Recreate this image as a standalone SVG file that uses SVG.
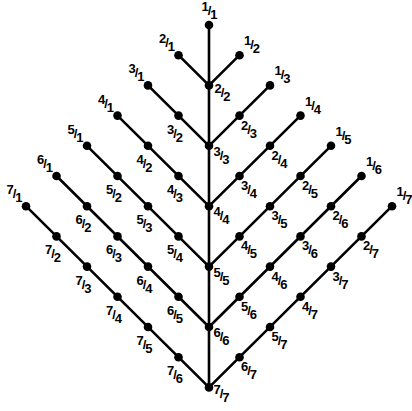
<svg xmlns="http://www.w3.org/2000/svg" width="412" height="411" viewBox="0 0 412 411">
<style>
.c line{stroke:#000;stroke-width:2.6;stroke-linecap:round}
circle{fill:#000}
text{font-family:"Liberation Sans",Arial,sans-serif;font-weight:bold;font-size:13px;fill:#000;text-anchor:middle;letter-spacing:-1px}
</style>
<rect width="412" height="411" fill="#fff"/>
<g id="connectors" class="c">
<line x1="209" y1="25" x2="209" y2="387.4"/>
<line x1="209" y1="85.4" x2="178.5" y2="55.2"/>
<line x1="209" y1="145.8" x2="148" y2="85.4"/>
<line x1="209" y1="206.2" x2="117.5" y2="115.6"/>
<line x1="209" y1="266.6" x2="87" y2="145.8"/>
<line x1="209" y1="327" x2="56.5" y2="176"/>
<line x1="209" y1="387.4" x2="26" y2="206.2"/>
<line x1="209" y1="85.4" x2="239.5" y2="55.2"/>
<line x1="209" y1="145.8" x2="270" y2="85.4"/>
<line x1="209" y1="206.2" x2="300.5" y2="115.6"/>
<line x1="209" y1="266.6" x2="331" y2="145.8"/>
<line x1="209" y1="327" x2="361.5" y2="176"/>
<line x1="209" y1="387.4" x2="392" y2="206.2"/>
</g>
<!-- spine -->
<g id="n1_1"><circle cx="209" cy="25" r="4.3"/><text x="209" y="15"><tspan dy="-4">1</tspan><tspan dy="4">/</tspan><tspan dy="4">1</tspan></text></g>
<g id="n2_2"><circle cx="209" cy="85.4" r="4.3"/><text x="222" y="97"><tspan dy="-4">2</tspan><tspan dy="4">/</tspan><tspan dy="4">2</tspan></text></g>
<g id="n3_3"><circle cx="209" cy="145.8" r="4.3"/><text x="221" y="160"><tspan dy="-4">3</tspan><tspan dy="4">/</tspan><tspan dy="4">3</tspan></text></g>
<g id="n4_4"><circle cx="209" cy="206.2" r="4.3"/><text x="221" y="220.4"><tspan dy="-4">4</tspan><tspan dy="4">/</tspan><tspan dy="4">4</tspan></text></g>
<g id="n5_5"><circle cx="209" cy="266.6" r="4.3"/><text x="221" y="281"><tspan dy="-4">5</tspan><tspan dy="4">/</tspan><tspan dy="4">5</tspan></text></g>
<g id="n6_6"><circle cx="209" cy="327" r="4.3"/><text x="221" y="341.2"><tspan dy="-4">6</tspan><tspan dy="4">/</tspan><tspan dy="4">6</tspan></text></g>
<g id="n7_7"><circle cx="209" cy="387.4" r="4.3"/><text x="221" y="398"><tspan dy="-4">7</tspan><tspan dy="4">/</tspan><tspan dy="4">7</tspan></text></g>
<!-- left endpoints -->
<g id="n2_1"><circle cx="178.5" cy="55.2" r="4.3"/><text x="166.5" y="47.2"><tspan dy="-4">2</tspan><tspan dy="4">/</tspan><tspan dy="4">1</tspan></text></g>
<g id="n3_1"><circle cx="148" cy="85.4" r="4.3"/><text x="136" y="77.4"><tspan dy="-4">3</tspan><tspan dy="4">/</tspan><tspan dy="4">1</tspan></text></g>
<g id="n4_1"><circle cx="117.5" cy="115.6" r="4.3"/><text x="105.5" y="107.6"><tspan dy="-4">4</tspan><tspan dy="4">/</tspan><tspan dy="4">1</tspan></text></g>
<g id="n5_1"><circle cx="87" cy="145.8" r="4.3"/><text x="75" y="137.8"><tspan dy="-4">5</tspan><tspan dy="4">/</tspan><tspan dy="4">1</tspan></text></g>
<g id="n6_1"><circle cx="56.5" cy="176" r="4.3"/><text x="44.5" y="168"><tspan dy="-4">6</tspan><tspan dy="4">/</tspan><tspan dy="4">1</tspan></text></g>
<g id="n7_1"><circle cx="26" cy="206.2" r="4.3"/><text x="14" y="198.2"><tspan dy="-4">7</tspan><tspan dy="4">/</tspan><tspan dy="4">1</tspan></text></g>
<!-- right endpoints -->
<g id="n1_2"><circle cx="239.5" cy="55.2" r="4.3"/><text x="251.5" y="49.2"><tspan dy="-4">1</tspan><tspan dy="4">/</tspan><tspan dy="4">2</tspan></text></g>
<g id="n1_3"><circle cx="270" cy="85.4" r="4.3"/><text x="282" y="79.4"><tspan dy="-4">1</tspan><tspan dy="4">/</tspan><tspan dy="4">3</tspan></text></g>
<g id="n1_4"><circle cx="300.5" cy="115.6" r="4.3"/><text x="312.5" y="109.6"><tspan dy="-4">1</tspan><tspan dy="4">/</tspan><tspan dy="4">4</tspan></text></g>
<g id="n1_5"><circle cx="331" cy="145.8" r="4.3"/><text x="343" y="139.8"><tspan dy="-4">1</tspan><tspan dy="4">/</tspan><tspan dy="4">5</tspan></text></g>
<g id="n1_6"><circle cx="361.5" cy="176" r="4.3"/><text x="373.5" y="170"><tspan dy="-4">1</tspan><tspan dy="4">/</tspan><tspan dy="4">6</tspan></text></g>
<g id="n1_7"><circle cx="392" cy="206.2" r="4.3"/><text x="404" y="200.2"><tspan dy="-4">1</tspan><tspan dy="4">/</tspan><tspan dy="4">7</tspan></text></g>
<!-- left interior -->
<g id="n3_2"><circle cx="178.5" cy="115.6" r="4.3"/><text x="174.5" y="137.6"><tspan dy="-4">3</tspan><tspan dy="4">/</tspan><tspan dy="4">2</tspan></text></g>
<g id="n4_2"><circle cx="148" cy="145.8" r="4.3"/><text x="144" y="167.8"><tspan dy="-4">4</tspan><tspan dy="4">/</tspan><tspan dy="4">2</tspan></text></g>
<g id="n4_3"><circle cx="178.5" cy="176" r="4.3"/><text x="174.5" y="198"><tspan dy="-4">4</tspan><tspan dy="4">/</tspan><tspan dy="4">3</tspan></text></g>
<g id="n5_2"><circle cx="117.5" cy="176" r="4.3"/><text x="113.5" y="198"><tspan dy="-4">5</tspan><tspan dy="4">/</tspan><tspan dy="4">2</tspan></text></g>
<g id="n5_3"><circle cx="148" cy="206.2" r="4.3"/><text x="144" y="228.2"><tspan dy="-4">5</tspan><tspan dy="4">/</tspan><tspan dy="4">3</tspan></text></g>
<g id="n5_4"><circle cx="178.5" cy="236.4" r="4.3"/><text x="174.5" y="258.4"><tspan dy="-4">5</tspan><tspan dy="4">/</tspan><tspan dy="4">4</tspan></text></g>
<g id="n6_2"><circle cx="87" cy="206.2" r="4.3"/><text x="83" y="228.2"><tspan dy="-4">6</tspan><tspan dy="4">/</tspan><tspan dy="4">2</tspan></text></g>
<g id="n6_3"><circle cx="117.5" cy="236.4" r="4.3"/><text x="113.5" y="258.4"><tspan dy="-4">6</tspan><tspan dy="4">/</tspan><tspan dy="4">3</tspan></text></g>
<g id="n6_4"><circle cx="148" cy="266.6" r="4.3"/><text x="144" y="288.6"><tspan dy="-4">6</tspan><tspan dy="4">/</tspan><tspan dy="4">4</tspan></text></g>
<g id="n6_5"><circle cx="178.5" cy="296.8" r="4.3"/><text x="174.5" y="318.8"><tspan dy="-4">6</tspan><tspan dy="4">/</tspan><tspan dy="4">5</tspan></text></g>
<g id="n7_2"><circle cx="56.5" cy="236.4" r="4.3"/><text x="52.5" y="258.4"><tspan dy="-4">7</tspan><tspan dy="4">/</tspan><tspan dy="4">2</tspan></text></g>
<g id="n7_3"><circle cx="87" cy="266.6" r="4.3"/><text x="83" y="288.6"><tspan dy="-4">7</tspan><tspan dy="4">/</tspan><tspan dy="4">3</tspan></text></g>
<g id="n7_4"><circle cx="117.5" cy="296.8" r="4.3"/><text x="113.5" y="318.8"><tspan dy="-4">7</tspan><tspan dy="4">/</tspan><tspan dy="4">4</tspan></text></g>
<g id="n7_5"><circle cx="148" cy="327" r="4.3"/><text x="144" y="349"><tspan dy="-4">7</tspan><tspan dy="4">/</tspan><tspan dy="4">5</tspan></text></g>
<g id="n7_6"><circle cx="178.5" cy="357.2" r="4.3"/><text x="174.5" y="379.2"><tspan dy="-4">7</tspan><tspan dy="4">/</tspan><tspan dy="4">6</tspan></text></g>
<!-- right interior -->
<g id="n2_3"><circle cx="239.5" cy="115.6" r="4.3"/><text x="248.5" y="133.6"><tspan dy="-4">2</tspan><tspan dy="4">/</tspan><tspan dy="4">3</tspan></text></g>
<g id="n2_4"><circle cx="270" cy="145.8" r="4.3"/><text x="279" y="163.8"><tspan dy="-4">2</tspan><tspan dy="4">/</tspan><tspan dy="4">4</tspan></text></g>
<g id="n3_4"><circle cx="239.5" cy="176" r="4.3"/><text x="248.5" y="194"><tspan dy="-4">3</tspan><tspan dy="4">/</tspan><tspan dy="4">4</tspan></text></g>
<g id="n2_5"><circle cx="300.5" cy="176" r="4.3"/><text x="309.5" y="194"><tspan dy="-4">2</tspan><tspan dy="4">/</tspan><tspan dy="4">5</tspan></text></g>
<g id="n3_5"><circle cx="270" cy="206.2" r="4.3"/><text x="279" y="224.2"><tspan dy="-4">3</tspan><tspan dy="4">/</tspan><tspan dy="4">5</tspan></text></g>
<g id="n4_5"><circle cx="239.5" cy="236.4" r="4.3"/><text x="248.5" y="254.4"><tspan dy="-4">4</tspan><tspan dy="4">/</tspan><tspan dy="4">5</tspan></text></g>
<g id="n2_6"><circle cx="331" cy="206.2" r="4.3"/><text x="340" y="224.2"><tspan dy="-4">2</tspan><tspan dy="4">/</tspan><tspan dy="4">6</tspan></text></g>
<g id="n3_6"><circle cx="300.5" cy="236.4" r="4.3"/><text x="309.5" y="254.4"><tspan dy="-4">3</tspan><tspan dy="4">/</tspan><tspan dy="4">6</tspan></text></g>
<g id="n4_6"><circle cx="270" cy="266.6" r="4.3"/><text x="279" y="284.6"><tspan dy="-4">4</tspan><tspan dy="4">/</tspan><tspan dy="4">6</tspan></text></g>
<g id="n5_6"><circle cx="239.5" cy="296.8" r="4.3"/><text x="248.5" y="314.8"><tspan dy="-4">5</tspan><tspan dy="4">/</tspan><tspan dy="4">6</tspan></text></g>
<g id="n2_7"><circle cx="361.5" cy="236.4" r="4.3"/><text x="370.5" y="254.4"><tspan dy="-4">2</tspan><tspan dy="4">/</tspan><tspan dy="4">7</tspan></text></g>
<g id="n3_7"><circle cx="331" cy="266.6" r="4.3"/><text x="340" y="284.6"><tspan dy="-4">3</tspan><tspan dy="4">/</tspan><tspan dy="4">7</tspan></text></g>
<g id="n4_7"><circle cx="300.5" cy="296.8" r="4.3"/><text x="309.5" y="314.8"><tspan dy="-4">4</tspan><tspan dy="4">/</tspan><tspan dy="4">7</tspan></text></g>
<g id="n5_7"><circle cx="270" cy="327" r="4.3"/><text x="279" y="345"><tspan dy="-4">5</tspan><tspan dy="4">/</tspan><tspan dy="4">7</tspan></text></g>
<g id="n6_7"><circle cx="239.5" cy="357.2" r="4.3"/><text x="248.5" y="375.2"><tspan dy="-4">6</tspan><tspan dy="4">/</tspan><tspan dy="4">7</tspan></text></g>
</svg>
